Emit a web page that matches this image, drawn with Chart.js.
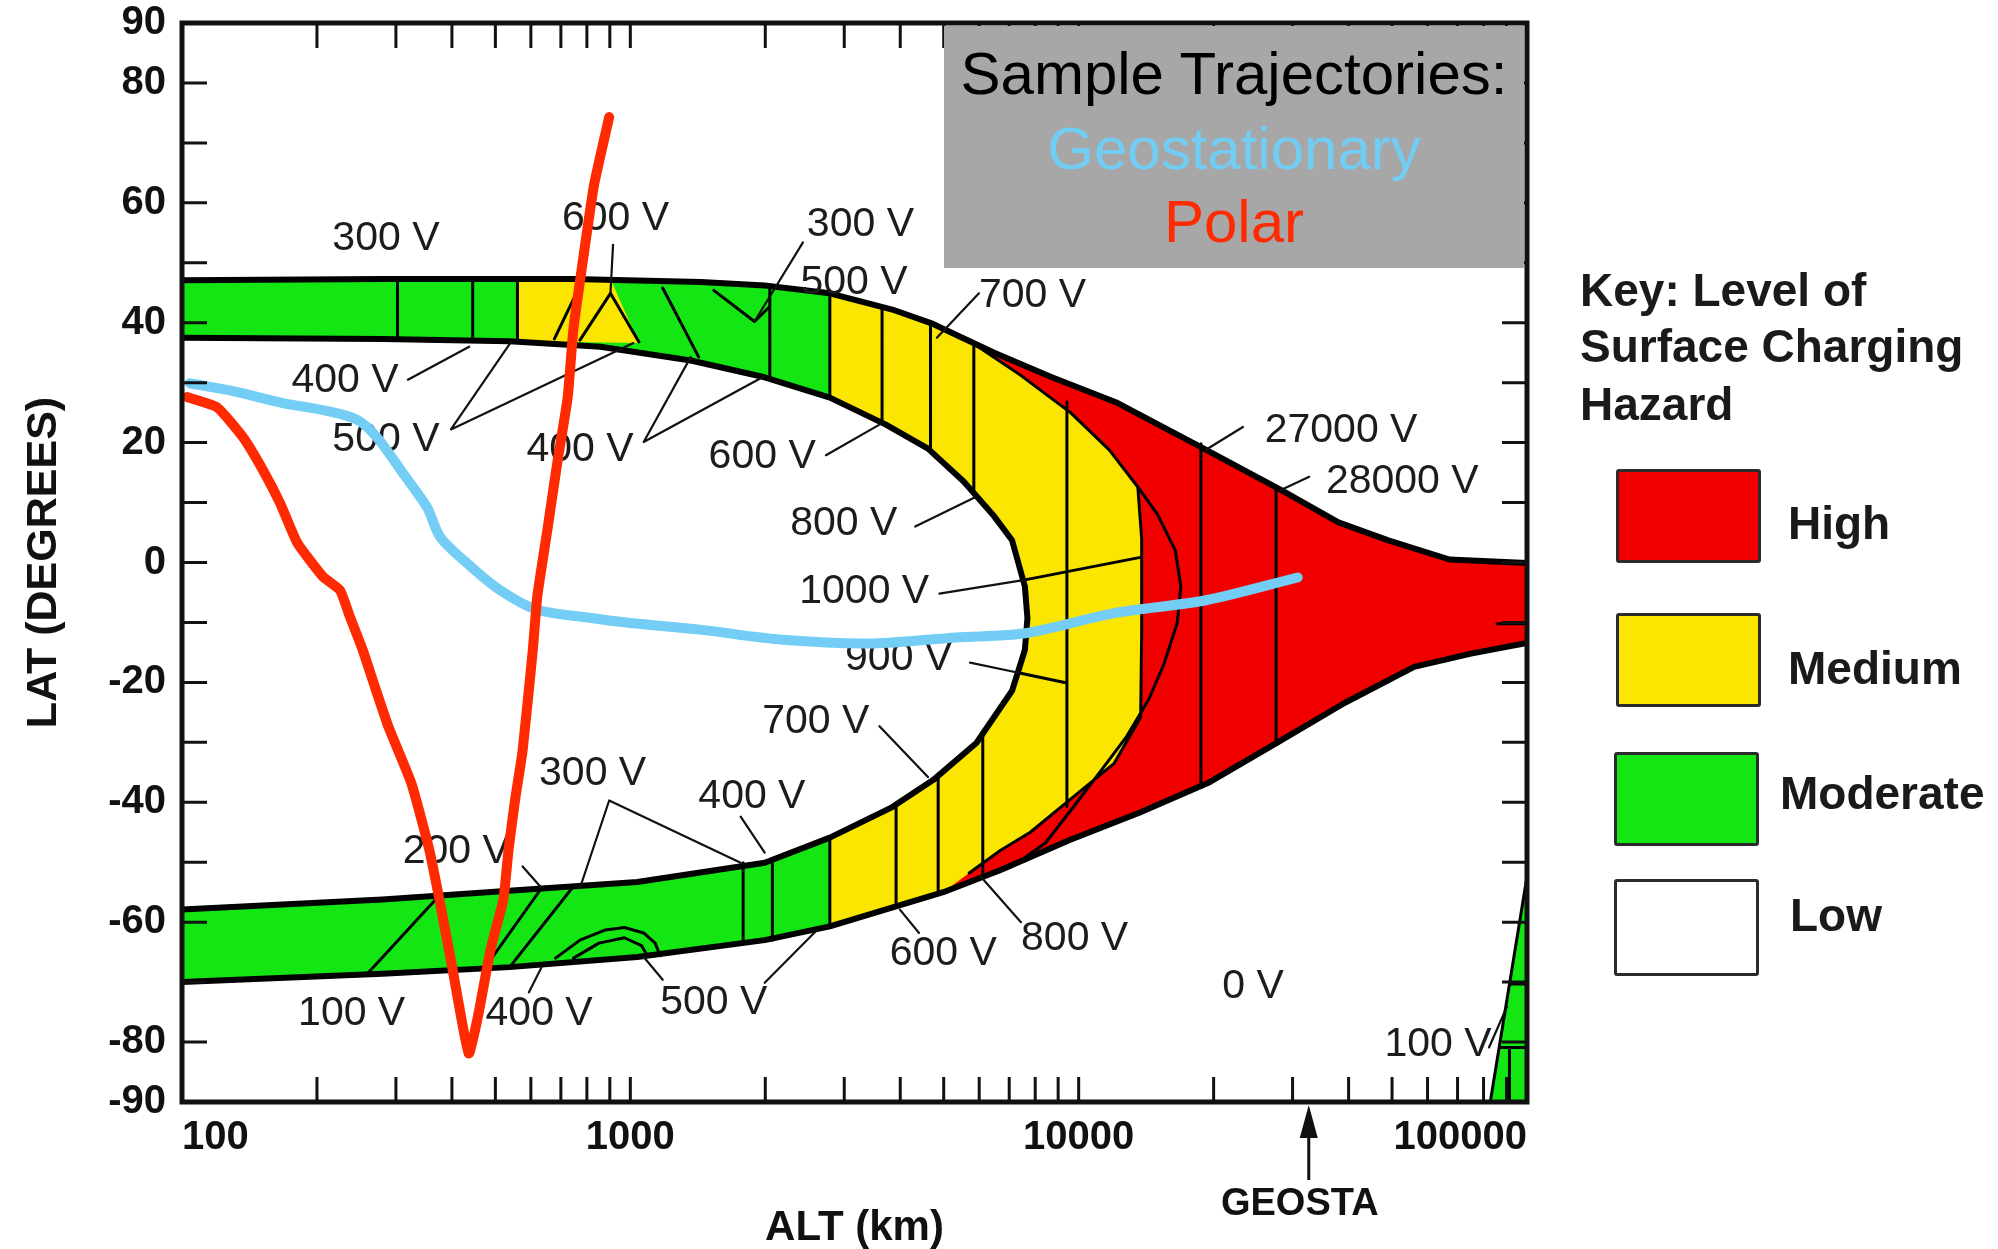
<!DOCTYPE html>
<html>
<head>
<meta charset="utf-8">
<script src="https://cdn.jsdelivr.net/npm/chart.js@4.4.1/dist/chart.umd.min.js"></script>
<style>
  html, body { margin: 0; padding: 0; background: #fff; }
  #wrap { position: relative; width: 1998px; height: 1249px; overflow: hidden; background: #fff; }
  canvas { position: absolute; left: 0; top: 0; }
  .box { position: absolute; left: 944px; top: 26px; width: 580px; height: 242px; background: #a7a7a7; }
  .box div { position: absolute; left: 0; width: 100%; text-align: center; font: 60px/60px "Liberation Sans", Arial, sans-serif; white-space: nowrap; }
  .key { position: absolute; font: bold 46px/46px "Liberation Sans", Arial, sans-serif; color: #1a1a1a; white-space: nowrap; }
  .sw { position: absolute; width: 139px; height: 88px; border: 3px solid #2b2b2b; border-radius: 3px; }
</style>
</head>
<body>
<div id="wrap">
  <canvas id="chart" width="1998" height="1249"></canvas>
  <div class="box">
    <div style="top:18px;color:#000">Sample Trajectories:</div>
    <div style="top:93px;color:#72cdf4">Geostationary</div>
    <div style="top:166px;color:#ff2a00">Polar</div>
  </div>
  <div class="key" style="left:1580px;top:267px">Key: Level of</div>
  <div class="key" style="left:1580px;top:323px">Surface Charging</div>
  <div class="key" style="left:1580px;top:381px">Hazard</div>
  <div class="sw" style="left:1616px;top:469px;background:#f20000"></div>
  <div class="sw" style="left:1616px;top:613px;background:#fae600"></div>
  <div class="sw" style="left:1614px;top:752px;background:#14e614"></div>
  <div class="sw" style="left:1614px;top:879px;height:91px;background:#fff"></div>
  <div class="key" style="left:1788px;top:500px">High</div>
  <div class="key" style="left:1788px;top:645px">Medium</div>
  <div class="key" style="left:1780px;top:770px">Moderate</div>
  <div class="key" style="left:1790px;top:892px">Low</div>
</div>
<script>
const RED = '#f20000';
const YELLOW = '#fae600';
const GREEN = '#14e614';

// axes
const xLabelValues = [100, 1000, 10000, 100000];
const yLabelValues = [-90, -80, -60, -40, -20, 0, 20, 40, 60, 80, 90];
const xTickMarks = [200, 300, 400, 500, 600, 700, 800, 900, 1000, 2000, 3000, 4000, 5000, 6000, 7000, 8000, 9000,
  10000, 20000, 30000, 40000, 50000, 60000, 70000, 80000, 90000];
const yTickMarks = [-80, -70, -60, -50, -40, -30, -20, -10, 0, 10, 20, 30, 40, 50, 60, 70, 80];
const geostaAlt = 32600;

// hazard zone boundaries [alt km, lat deg]
const outerTop = [
  [100, 47.1], [280, 47.3], [747, 47.3], [1438, 46.8], [1994, 46.2], [2786, 44.9],
  [3839, 42.2], [4734, 39.8], [6480, 35.0], [8660, 31.0], [12220, 26.6], [18700, 19.3],
  [28250, 12.1], [37973, 6.7], [49048, 3.7], [67161, 0.5], [100000, -0.1]
];
const outerBottom = [
  [100000, -13.4], [75000, -15.2], [55980, -17.4], [39260, -23.4], [27660, -30.1],
  [19410, -36.8], [13610, -41.8], [9550, -46.3], [6699, -51.3], [4989, -55.0],
  [3864, -57.5], [2786, -60.7], [1994, -63.0], [1036, -65.8], [538, -67.5], [280, -68.6], [100, -70.0]
];
const lowZone = [
  [100, 37.5], [280, 37.3], [538, 36.9], [857, 36.0], [1364, 33.7], [1994, 30.9],
  [2786, 27.5], [3715, 23.0], [4612, 19.0], [5540, 13.5], [6480, 7.7], [7102, 3.7],
  [7586, -4.0], [7686, -9.3], [7586, -14.6], [7102, -21.4], [5914, -30.1], [4734, -36.3],
  [3839, -40.8], [2786, -45.9], [1994, -50.1], [1036, -53.3], [634, -54.4], [280, -56.2],
  [100, -57.9]
];
const mediumEdge = [
  [5800, 36.6], [7400, 31.3], [9590, 25.0], [11700, 18.8], [13550, 12.6], [13820, 4.0],
  [13820, -12.0], [13750, -25.8], [12000, -33.5], [9550, -39.6], [7800, -45.0], [6699, -48.0],
  [5700, -51.8]
];
const highArc = [
  [13550, 12.6], [15000, 8.0], [16430, 2.0], [16900, -4.0], [16600, -10.0], [15488, -17.0],
  [14320, -22.9], [12800, -29.0], [11380, -34.1], [9800, -40.5], [8430, -46.8], [7400, -49.8]
];
const moderatePatchTop = [[560, 47.3], [903, 47.3], [1045, 36.6], [560, 36.9]];
const moderateSpike = [[82811, -90], [100000, -52.4], [100000, -90]];

const dividers = [
  [[302.5, 47.3], [302.5, 37.2]], [[445, 47.3], [445, 37.0]], [[560, 47.3], [560, 36.9]],
  [[677, 37.3], [777, 46.6]], [[772, 37.1], [903, 44.9], [1045, 36.8]],
  [[1181, 45.8], [1420, 34.3]], [[1535, 45.4], [1892, 40.2], [2047, 42.7]],
  [[2047, 46.0], [2047, 31.0]], [[2786, 44.9], [2786, 27.5]], [[2786, -45.9], [2786, -60.7]],
  [[3643, 42.6], [3643, 23.5]], [[4672, 40.0], [4672, 18.6]], [[5837, 36.8], [5837, 11.8]],
  [[3915, -40.5], [3915, -57.3]], [[4860, -35.8], [4860, -54.7]], [[6111, -28.6], [6111, -52.3]],
  [[9414, 26.8], [9414, -40.7]], [[7586, -2.9], [13820, 0.9]], [[7338, -18.4], [9414, -20.1]],
  [[18734, 19.8], [18734, -37.1]], [[27560, 12.2], [27560, -30.2]],
  [[85700, -10.2], [100000, -10.2]],
  [[258.5, -68.7], [375.4, -55.5]], [[475, -67.5], [634, -54.3]], [[538, -67.5], [747, -54.0]],
  [[681, -66.0], [772, -63.0], [880, -61.3], [970, -60.9], [1071, -61.8], [1136, -63.5], [1166, -65.6]],
  [[747, -66.0], [851, -63.5], [970, -62.6], [1059, -63.9], [1092, -65.6]],
  [[1785, -50.1], [1785, -63.5]], [[2074, -49.8], [2074, -63.0]],
  [[100000, -52.4], [82811, -90]], [[91383, -70.3], [100000, -70.3]],
  [[86700, -80.9], [100000, -80.9]], [[91383, -80.9], [91383, -90]]
];
const leaders = [
  [[915, 53.0], [903, 44.9]], [[2427, 53.4], [1892, 40.2]], [[5993, 44.9], [4828, 37.5]],
  [[319, 30.5], [437, 36.0]], [[542, 36.8], [398, 22.2], [1016, 36.6]],
  [[1364, 34.3], [1071, 20.1], [1994, 31.1]], [[2731, 17.9], [3595, 23.0]],
  [[4320, 6.0], [5876, 10.9]], [[4891, -5.2], [7586, -2.9]], [[5724, -16.7], [7338, -18.4]],
  [[3595, -27.3], [4612, -35.8]], [[772, -54.3], [897, -39.7], [1762, -50.1]],
  [[1762, -42.4], [1994, -48.4]], [[575, -50.7], [634, -54.3]], [[594, -71.7], [634, -67.5]],
  [[1181, -69.6], [1071, -65.8]], [[1994, -70.1], [2609, -61.3]], [[4405, -61.8], [3993, -57.9]],
  [[7435, -60.0], [6031, -52.3]], [[23246, 22.6], [19228, 18.8]], [[32677, 14.3], [28105, 12.0]],
  [[82270, -80.9], [90190, -74.1]]
];
const voltLabels = [
  ['300 V', 285, 54.1], ['600 V', 927, 57.3], ['300 V', 3260, 56.4], ['500 V', 3154, 46.6],
  ['700 V', 7889, 44.5], ['400 V', 231, 30.3], ['500 V', 285, 20.5], ['400 V', 772, 18.8],
  ['600 V', 1968, 17.7], ['800 V', 2993, 6.5], ['1000 V', 3324, -4.8], ['900 V', 3967, -16.1],
  ['700 V', 2591, -26.5], ['300 V', 824, -35.2], ['400 V', 1867, -39.0], ['200 V', 409, -48.2],
  ['100 V', 239, -75.2], ['400 V', 626, -75.2], ['500 V', 1535, -73.4], ['600 V', 4989, -65.2],
  ['800 V', 9793, -62.8], ['0 V', 24490, -70.7], ['100 V', 63330, -80.5],
  ['27000 V', 38480, 22.0], ['28000 V', 52700, 13.5]
];

// sample trajectories
const polarPath = [
  [102.6, 27.6], [119.7, 25.9], [136.8, 20.9], [151.6, 15.4], [165.5, 9.9], [180.7, 3.3],
  [206.5, -2.4], [225, -4.6], [237, -9.1], [253, -14.6], [270, -21.0], [289, -27.5], [325, -36.9],
  [356, -47.9], [375, -56.2], [401, -67.7], [436, -81.9], [457, -75.8], [488, -64.5], [521, -56.2],
  [535, -47.9], [553, -39.7], [575, -31.4], [606, -14.6], [620, -5.7], [653, 5.4], [687, 16.6],
  [725, 27.6], [746, 38.8], [771, 46.6], [829, 62.8], [897, 74.3]
];
const geoPath = [
  [104, 29.9], [130, 28.6], [168, 26.6], [210, 25.3], [246, 23.8], [272, 20.9], [311, 14.9],
  [352, 9.2], [377, 4.2], [432, -0.1], [512, -4.6], [620, -7.9], [786, -9.1], [1000, -10.1],
  [1428, -11.2], [2188, -12.9], [3479, -13.5], [5324, -12.5], [7586, -11.8], [12080, -8.4],
  [19230, -6.3], [30800, -2.5]
];

const pts = list => list.map(([x, y]) => ({ x, y }));
const joinLines = lines => lines.flatMap((l, i) => (i ? [{ x: l[0][0], y: null }] : []).concat(pts(l)));

const highZone = [...outerTop, ...outerBottom];
const moderateZone = [...outerTop.filter(p => p[0] <= 2786), ...outerBottom.filter(p => p[0] <= 2786)];
const mediumZone = [
  ...outerTop.filter(p => p[0] >= 2786 && p[0] <= 4734),
  ...mediumEdge,
  ...outerBottom.filter(p => p[0] >= 2786 && p[0] <= 5000)
];

function area(label, list, color, order) {
  return { label, data: pts(list), fill: 'shape', backgroundColor: color, borderWidth: 0, order };
}
function stroke(label, data, width, color, order, tension) {
  return { label, data, fill: false, borderColor: color, borderWidth: width, order,
    tension: tension || 0, borderJoinStyle: 'round', borderCapStyle: 'round' };
}

const datasets = [
  area('high', highZone, RED, 100),
  area('medium', mediumZone, YELLOW, 90),
  area('moderate', moderateZone, GREEN, 80),
  area('moderate patch', moderatePatchTop, YELLOW, 78),
  area('moderate spike', moderateSpike, GREEN, 76),
  area('low', lowZone, '#ffffff', 70),
  stroke('outline', joinLines([outerTop, outerBottom, lowZone]), 6, '#000', 60),
  stroke('dividers', joinLines([...dividers, mediumEdge, highArc]), 3, '#000', 55),
  stroke('leaders', joinLines(leaders), 2.2, '#111', 50),
  stroke('Geostationary', pts(geoPath), 10, '#74cdf5', 20, 0.3),
  stroke('Polar', pts(polarPath), 10, '#ff2a00', 10, 0.15)
];

const voltText = {
  id: 'voltText',
  afterDatasetDraw(chart, args) {
    if (chart.data.datasets[args.index].label !== 'leaders') return;
    const { ctx, scales: { x, y } } = chart;
    ctx.save();
    ctx.font = '41px "Liberation Sans", Arial, sans-serif';
    ctx.fillStyle = '#1c1c1c';
    ctx.textAlign = 'center';
    ctx.textBaseline = 'middle';
    for (const [t, a, l] of voltLabels) ctx.fillText(t, x.getPixelForValue(a), y.getPixelForValue(l));
    ctx.restore();
  }
};

const axisFrame = {
  id: 'axisFrame',
  afterDraw(chart) {
    const { ctx, chartArea: a, scales: { x, y } } = chart;
    ctx.save();
    ctx.strokeStyle = '#111';
    ctx.lineWidth = 3;
    ctx.beginPath();
    for (const v of xTickMarks) {
      const px = x.getPixelForValue(v);
      ctx.moveTo(px, a.bottom); ctx.lineTo(px, a.bottom - 25);
      ctx.moveTo(px, a.top); ctx.lineTo(px, a.top + 25);
    }
    for (const v of yTickMarks) {
      const py = y.getPixelForValue(v);
      ctx.moveTo(a.left, py); ctx.lineTo(a.left + 25, py);
      ctx.moveTo(a.right, py); ctx.lineTo(a.right - 25, py);
    }
    ctx.stroke();
    ctx.lineWidth = 5;
    ctx.strokeRect(a.left, a.top, a.right - a.left, a.bottom - a.top);

    // GEOSTA marker
    const gx = x.getPixelForValue(geostaAlt);
    ctx.fillStyle = '#111';
    ctx.lineWidth = 3;
    ctx.beginPath();
    ctx.moveTo(gx, a.bottom + 20); ctx.lineTo(gx, a.bottom + 78);
    ctx.stroke();
    ctx.beginPath();
    ctx.moveTo(gx, a.bottom + 3); ctx.lineTo(gx - 9, a.bottom + 36); ctx.lineTo(gx + 9, a.bottom + 36);
    ctx.closePath(); ctx.fill();
    ctx.font = 'bold 38px "Liberation Sans", Arial, sans-serif';
    ctx.textAlign = 'center';
    ctx.textBaseline = 'middle';
    ctx.fillText('GEOSTA', gx - 9, a.bottom + 103);
    ctx.restore();
  }
};

const tickFont = { family: '"Liberation Sans", Arial, sans-serif', weight: 'bold', size: 40, lineHeight: 1 };
const titleFont = { family: '"Liberation Sans", Arial, sans-serif', weight: 'bold', size: 42, lineHeight: 1 };

new Chart(document.getElementById('chart'), {
  type: 'line',
  data: { datasets },
  options: {
    responsive: false,
    animation: false,
    events: [],
    spanGaps: false,
    layout: { padding: { top: 23, right: 471, left: 0, bottom: 0 } },
    elements: { point: { radius: 0 }, line: { tension: 0 } },
    plugins: { legend: { display: false }, tooltip: { enabled: false } },
    scales: {
      x: {
        type: 'logarithmic', min: 100, max: 100000,
        grid: { display: false, drawTicks: false }, border: { display: false },
        ticks: { font: tickFont, color: '#111', padding: 16, align: 'inner', autoSkip: false, maxRotation: 0,
          callback: v => String(v) },
        afterBuildTicks: s => { s.ticks = xLabelValues.map(v => ({ value: v })); },
        afterFit: s => { s.height = 147; },
        title: { display: true, text: 'ALT (km)', font: titleFont, color: '#111', padding: { top: 0, bottom: 0 } }
      },
      y: {
        type: 'linear', min: -90, max: 90,
        grid: { display: true, drawOnChartArea: false, drawTicks: true, tickLength: 16, color: 'rgba(0,0,0,0)' },
        border: { display: false },
        ticks: { font: tickFont, color: '#111', padding: 0, autoSkip: false, callback: v => String(v) },
        afterBuildTicks: s => { s.ticks = yLabelValues.map(v => ({ value: v })); },
        afterFit: s => { s.width = 182; },
        title: { display: true, text: 'LAT (DEGREES)', font: { ...titleFont, size: 43 }, color: '#111', padding: { top: 23, bottom: 0 } }
      }
    }
  },
  plugins: [voltText, axisFrame]
});
</script>
</body>
</html>
